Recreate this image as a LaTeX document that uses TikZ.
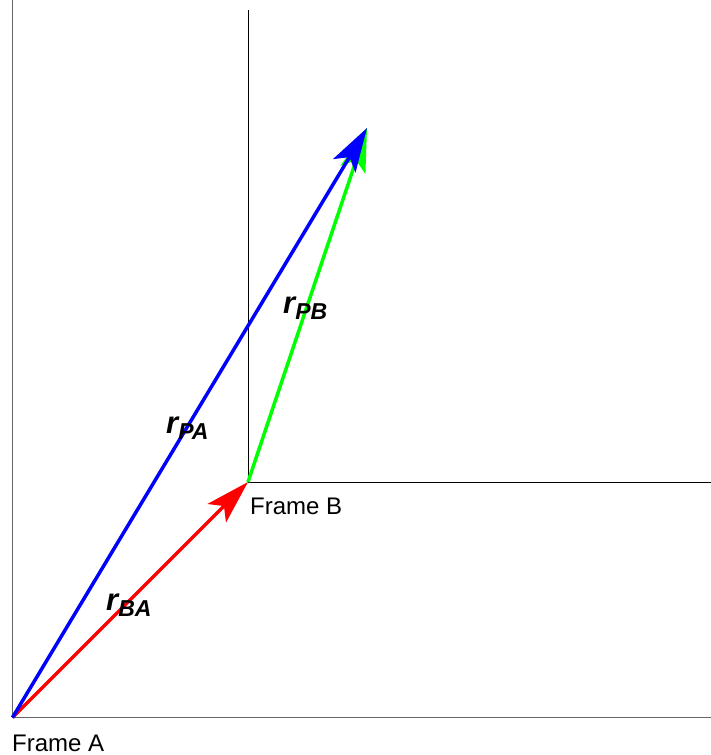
\documentclass[tikz,border=0pt]{standalone}
\usepackage{fontspec}
\setmainfont{Liberation Sans}
\usetikzlibrary{positioning,arrows.meta}

% vector label: bold italic r with subscript
\newcommand{\veclab}[1]{{\fontsize{31}{31}\selectfont\bfseries\itshape r}\raisebox{-6pt}{\fontsize{23}{23}\selectfont\bfseries\itshape #1}}

\begin{document}
\begin{tikzpicture}[
  x=1pt,y=-1pt,
  axisA/.style={draw=black!60,line width=1pt},
  axisB/.style={draw=black,line width=0.8pt},
  vec/.style={line width=3.5pt,draw=#1,-{Stealth[length=44pt,width=26pt,inset=10pt,fill=#1]}},
  frame/.style={font=\fontsize{24}{28}\selectfont,inner sep=0pt,anchor=base west},
  lab/.style={inner sep=0pt,anchor=base west},
]
\useasboundingbox (0,0) rectangle (711,755);

% Origins and tip
\coordinate (A) at (12.5,717.5);
\coordinate (B) at (248,482);
\coordinate (P) at (367,128);

% Axis ends
\coordinate (Atop)   at (12.5,0);
\coordinate (Aright) at (711,717.5);
\coordinate (Btop)   at (248,10);
\coordinate (Bright) at (711,482);

% Frame A axes
\draw[axisA] (Atop) -- (A) -- (Aright);
% Frame B axes
\draw[axisB] (Btop) -- (B) -- (Bright);

% Vectors
\draw[vec=green] (B) -- (P);
\draw[vec=red]   (A) -- (B);
\draw[vec=blue]  (A) -- (P);

% Frame labels
\node[frame] (labA) at (12,751) {Frame A};
\node[frame] (labB) at (250,514) {Frame B};

% Vector labels
\node[lab] (rPA) at (166,433) {\veclab{PA}};
\node[lab] (rPB) at (283,313) {\veclab{PB}};
\node[lab] (rBA) at (106,610) {\veclab{BA}};

\end{tikzpicture}
\end{document}
